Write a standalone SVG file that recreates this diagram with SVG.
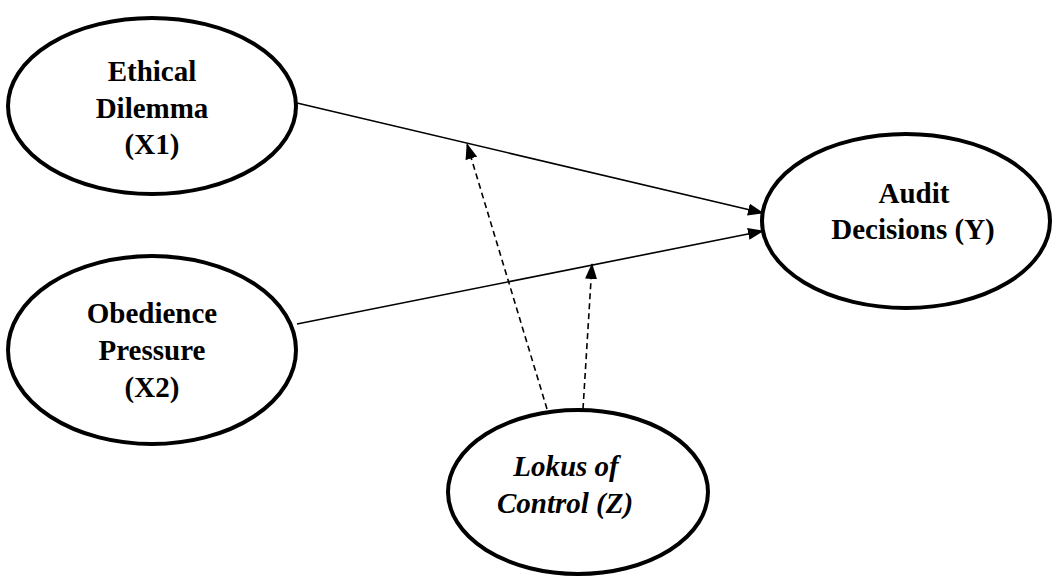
<svg xmlns="http://www.w3.org/2000/svg" width="1058" height="579" viewBox="0 0 1058 579">
  <style>
    .node { fill: #fff; stroke: #000; stroke-width: 4; }
    .lbl { font-family: "Times New Roman", "Liberation Serif", serif; font-size: 29px; font-weight: 700; text-anchor: middle; fill: #000; }
    .it { font-style: italic; }
    .edge { stroke: #000; stroke-width: 1.6; fill: none; }
    .dash { stroke-dasharray: 6 4; }
  </style>
  <defs>
    <marker id="arrow" markerUnits="userSpaceOnUse" markerWidth="16" markerHeight="12" refX="15" refY="6" orient="auto">
      <path d="M0,0 L16,6 L0,12 Z" fill="#000"/>
    </marker>
  </defs>

  <g id="connectors">
    <line class="edge" x1="297" y1="103" x2="763" y2="213" marker-end="url(#arrow)"/>
    <line class="edge" x1="297" y1="324" x2="763" y2="231" marker-end="url(#arrow)"/>
    <line class="edge dash" x1="547" y1="409" x2="467" y2="144" marker-end="url(#arrow)"/>
    <line class="edge dash" x1="583" y1="409" x2="592" y2="264" marker-end="url(#arrow)"/>
  </g>

  <g id="node-x1">
    <ellipse class="node" cx="152" cy="106" rx="144" ry="88"/>
    <text class="lbl" x="152" y="81">Ethical</text>
    <text class="lbl" x="152" y="118">Dilemma</text>
    <text class="lbl" x="152" y="154">(X1)</text>
  </g>

  <g id="node-x2">
    <ellipse class="node" cx="152" cy="350" rx="144" ry="94"/>
    <text class="lbl" x="152" y="323">Obedience</text>
    <text class="lbl" x="152" y="360">Pressure</text>
    <text class="lbl" x="152" y="397">(X2)</text>
  </g>

  <g id="node-y">
    <ellipse class="node" cx="906" cy="221" rx="144" ry="87"/>
    <text class="lbl" x="914" y="203">Audit</text>
    <text class="lbl" x="913" y="239">Decisions (Y)</text>
  </g>

  <g id="node-z">
    <ellipse class="node" cx="578" cy="492" rx="130" ry="82"/>
    <text class="lbl it" x="566" y="476">Lokus of</text>
    <text class="lbl it" x="565" y="513">Control (Z)</text>
  </g>
</svg>
